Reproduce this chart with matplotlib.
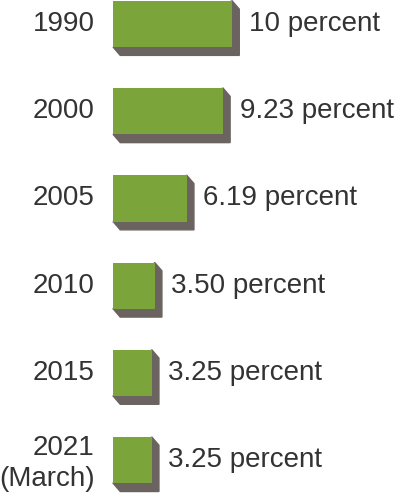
import matplotlib
matplotlib.use('Agg')
import matplotlib.pyplot as plt
from matplotlib.patches import Polygon

# data
years = ['1990', '2000', '2005', '2010', '2015', '2021\n(March)']
values = [10.0, 9.23, 6.19, 3.50, 3.25, 3.25]
value_labels = ['10 percent', '9.23 percent', '6.19 percent',
                '3.50 percent', '3.25 percent', '3.25 percent']

green = '#7ba53a'
side = '#6a6360'
text_col = '#333333'

plt.rcParams['font.family'] = ['Liberation Sans', 'DejaVu Sans']

fig = plt.figure(figsize=(4.0, 4.95), dpi=100)
ax = fig.add_axes([0, 0, 1, 1])
ax.set_xlim(-9.5, 24.1)
ax.set_ylim(5.40, -0.275)
ax.axis('off')

pos = list(range(len(years)))
bars = ax.barh(pos, values, height=0.53, color=green, zorder=3)

# depth of the block, in data units (about 7 px right, 8 px down)
dx, dy = 0.6, 0.095
for rect, lab in zip(bars, value_labels):
    x0, y0 = rect.get_x(), rect.get_y()
    x1, y1 = x0 + rect.get_width(), y0 + rect.get_height()
    pts = [(x1, y0), (x1 + dx, y0 + dy), (x1 + dx, y1 + dy),
           (x0 + dx, y1 + dy), (x0, y1)]
    ax.add_patch(Polygon(pts, closed=True, color=side, zorder=2))
    ax.text(x1 + dx + 0.8, (y0 + y1) / 2, lab, ha='left', va='center',
            fontsize=20, color=text_col)

for p, yr in zip(pos, years):
    ax.text(-1.55, p + (0.04 if '\n' in yr else 0), yr, ha='right',
            va='center', fontsize=20, color=text_col,
            multialignment='right', linespacing=1.25)

fig.savefig('out.png', dpi=100)
